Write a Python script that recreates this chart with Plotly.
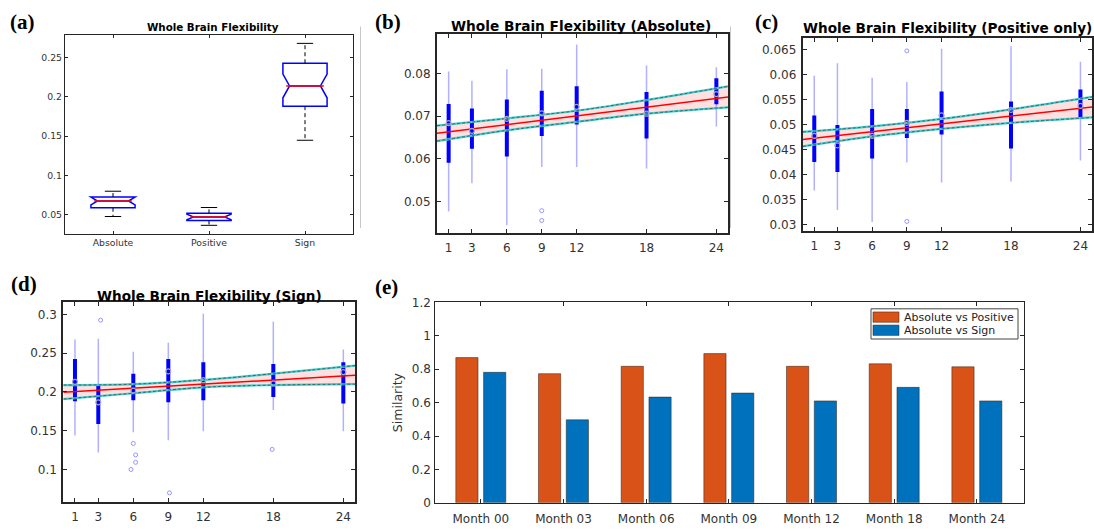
import plotly.graph_objects as go

W, H = 1094, 531
FONT = "DejaVu Sans"
TXT = "#333333"
AXC = "#262626"

# ---------------- data ----------------
# (a) overall box plots
a_cats = ["Absolute", "Positive", "Sign"]
a_lowcap = [0.0480, 0.0368, 0.1448]
a_q1 = [0.0591, 0.0430, 0.1881]
a_med = [0.0677, 0.0475, 0.2137]
a_q3 = [0.0727, 0.0520, 0.2426]
a_upcap = [0.0801, 0.0594, 0.2678]
a_notch = [0.0050, 0.0035, 0.0150]

months = [1, 3, 6, 9, 12, 18, 24]
fit_x = [0, 25]
ci_x = [0, 6, 12, 18, 25]

# (b) absolute
b_wlo = [0.0477, 0.0543, 0.0445, 0.0581, 0.0581, 0.0578, 0.0676]
b_whi = [0.0805, 0.0783, 0.0810, 0.0811, 0.0868, 0.0819, 0.0815]
b_q1 = [0.0591, 0.0624, 0.0606, 0.0654, 0.0681, 0.0648, 0.0728]
b_q3 = [0.0729, 0.0718, 0.0739, 0.0760, 0.0770, 0.0757, 0.0789]
b_med = [0.0684, 0.0666, 0.0694, 0.0707, 0.0722, 0.0706, 0.0752]
b_out_x = [9, 9]
b_out_y = [0.0479, 0.0456]
b_fit = [0.0660, 0.0745]
b_ci_hi = [0.0678, 0.0695, 0.0713, 0.0738, 0.0770]
b_ci_lo = [0.0642, 0.0667, 0.0687, 0.0706, 0.0721]

# (c) positive only
c_wlo = [0.0368, 0.0329, 0.0305, 0.0424, 0.0384, 0.0386, 0.0428]
c_whi = [0.0597, 0.0622, 0.0593, 0.0585, 0.0651, 0.0656, 0.0625]
c_q1 = [0.0425, 0.0405, 0.0432, 0.0473, 0.0480, 0.0452, 0.0513]
c_q3 = [0.0518, 0.0499, 0.0531, 0.0531, 0.0566, 0.0546, 0.0570]
c_med = [0.0477, 0.0458, 0.0477, 0.0503, 0.0518, 0.0529, 0.0537]
c_out_x = [9, 9]
c_out_y = [0.0647, 0.0306]
c_fit = [0.0470, 0.0535]
c_ci_hi = [0.0485, 0.0496, 0.0511, 0.0530, 0.0555]
c_ci_lo = [0.0456, 0.0476, 0.0491, 0.0503, 0.0514]

# (d) sign
d_wlo = [0.1439, 0.1218, 0.1481, 0.1377, 0.1494, 0.1766, 0.1494]
d_whi = [0.2674, 0.2686, 0.2519, 0.2632, 0.3008, 0.2904, 0.2548]
d_q1 = [0.1879, 0.1586, 0.1891, 0.1866, 0.1891, 0.1933, 0.1849]
d_q3 = [0.2423, 0.2100, 0.2234, 0.2423, 0.2381, 0.2360, 0.2381]
d_med = [0.2130, 0.1866, 0.2017, 0.2264, 0.2151, 0.2109, 0.2255]
d_out_x = [3.2, 6.0, 6.2, 6.2, 5.8, 9.1, 17.9]
d_out_y = [0.2925, 0.1335, 0.1188, 0.1092, 0.1000, 0.0699, 0.1259]
d_fit = [0.1996, 0.2213]
d_ci_hi = [0.2088, 0.2100, 0.2155, 0.2235, 0.2339]
d_ci_lo = [0.1908, 0.1983, 0.2059, 0.2088, 0.2100]

# (e) similarity
e_cats = ["Month 00", "Month 03", "Month 06", "Month 09", "Month 12", "Month 18", "Month 24"]
e_series = ["Absolute vs Positive", "Absolute vs Sign"]
e_abs_pos = [0.869, 0.773, 0.817, 0.893, 0.817, 0.832, 0.814]
e_abs_sign = [0.781, 0.497, 0.633, 0.657, 0.610, 0.691, 0.610]
e_colors = ["#D95319", "#0072BD"]

# ---------------- figure ----------------
fig = go.Figure()

# (a)
BOXW = 0.46
NOTCHW = 0.15
CAPW = 0.085
for i, c in enumerate(a_cats):
    pos = i + 1
    fig.add_trace(go.Box(
        x=[pos], q1=[a_q1[i]], median=[a_med[i]], q3=[a_q3[i]],
        lowerfence=[a_q1[i]], upperfence=[a_q3[i]], notchspan=[a_notch[i]],
        notched=True, notchwidth=NOTCHW, width=BOXW, whiskerwidth=0,
        line=dict(color="#0000FF", width=1.5), fillcolor="rgba(0,0,0,0)",
        boxpoints=False, hoverinfo="skip", showlegend=False, name=c,
        xaxis="x", yaxis="y"))
wx, wy, cx, cy, mx, my = [], [], [], [], [], []
for i in range(len(a_cats)):
    pos = i + 1
    wx += [pos, pos, None, pos, pos, None]
    wy += [a_q3[i], a_upcap[i], None, a_q1[i], a_lowcap[i], None]
    cx += [pos - CAPW, pos + CAPW, None, pos - CAPW, pos + CAPW, None]
    cy += [a_upcap[i], a_upcap[i], None, a_lowcap[i], a_lowcap[i], None]
    hw = BOXW / 2 * (1 - NOTCHW)
    mx += [pos - hw, pos + hw, None]
    my += [a_med[i], a_med[i], None]
fig.add_trace(go.Scatter(x=wx, y=wy, mode="lines", line=dict(color="black", width=1, dash="4px,3px"),
                         showlegend=False, hoverinfo="skip", xaxis="x", yaxis="y"))
fig.add_trace(go.Scatter(x=cx, y=cy, mode="lines", line=dict(color="black", width=1),
                         showlegend=False, hoverinfo="skip", xaxis="x", yaxis="y"))
fig.add_trace(go.Scatter(x=mx, y=my, mode="lines", line=dict(color="#FF0000", width=1.5),
                         showlegend=False, hoverinfo="skip", xaxis="x", yaxis="y"))


def trend_panel(xa, ya, wlo, whi, q1, q3, med, ox, oy, fit, cihi, cilo):
    fig.add_trace(go.Scatter(x=ci_x, y=cilo, mode="lines", line=dict(width=0, shape="spline"),
                             showlegend=False, hoverinfo="skip", xaxis=xa, yaxis=ya))
    fig.add_trace(go.Scatter(x=ci_x, y=cihi, mode="lines", line=dict(width=0, shape="spline"),
                             fill="tonexty", fillcolor="rgba(255,0,0,0.12)",
                             showlegend=False, hoverinfo="skip", xaxis=xa, yaxis=ya))
    xs, ys, bx, by = [], [], [], []
    for t, lo, hi, a, b in zip(months, wlo, whi, q1, q3):
        xs += [t, t, None]
        ys += [lo, hi, None]
        bx += [t, t, None]
        by += [a, b, None]
    fig.add_trace(go.Scatter(x=xs, y=ys, mode="lines", line=dict(color="rgba(70,70,255,0.42)", width=1.5),
                             showlegend=False, hoverinfo="skip", xaxis=xa, yaxis=ya))
    fig.add_trace(go.Scatter(x=bx, y=by, mode="lines", line=dict(color="#0000FF", width=4),
                             showlegend=False, hoverinfo="skip", xaxis=xa, yaxis=ya))
    for ci in (cihi, cilo):
        fig.add_trace(go.Scatter(x=ci_x, y=ci, mode="lines", line=dict(color="rgb(70,205,205)", width=2.2, shape="spline"),
                                 showlegend=False, hoverinfo="skip", xaxis=xa, yaxis=ya))
        fig.add_trace(go.Scatter(x=ci_x, y=ci, mode="lines",
                                 line=dict(color="rgba(40,60,60,0.85)", width=0.8, shape="spline", dash="3px,2px"),
                                 showlegend=False, hoverinfo="skip", xaxis=xa, yaxis=ya))
    fig.add_trace(go.Scatter(x=fit_x, y=fit, mode="lines", line=dict(color="#FF0000", width=1.5),
                             showlegend=False, hoverinfo="skip", xaxis=xa, yaxis=ya))
    fig.add_trace(go.Scatter(x=months, y=med, mode="markers",
                             marker=dict(symbol="circle-open", size=5, color="rgb(165,165,190)", line=dict(width=1.2)),
                             showlegend=False, hoverinfo="skip", xaxis=xa, yaxis=ya))
    fig.add_trace(go.Scatter(x=ox, y=oy, mode="markers",
                             marker=dict(symbol="circle-open", size=4, color="rgb(150,150,255)", line=dict(width=1)),
                             showlegend=False, hoverinfo="skip", xaxis=xa, yaxis=ya))


trend_panel("x2", "y2", b_wlo, b_whi, b_q1, b_q3, b_med, b_out_x, b_out_y, b_fit, b_ci_hi, b_ci_lo)
trend_panel("x3", "y3", c_wlo, c_whi, c_q1, c_q3, c_med, c_out_x, c_out_y, c_fit, c_ci_hi, c_ci_lo)
trend_panel("x4", "y4", d_wlo, d_whi, d_q1, d_q3, d_med, d_out_x, d_out_y, d_fit, d_ci_hi, d_ci_lo)

# (e)
for name, vals, col in zip(e_series, [e_abs_pos, e_abs_sign], e_colors):
    fig.add_trace(go.Bar(x=e_cats, y=vals, name=name, showlegend=False,
                         marker=dict(color=col, line=dict(color="rgba(40,30,20,0.7)", width=0.7)),
                         xaxis="x5", yaxis="y5"))


def px_x(p):
    return p / W


def px_y(p):
    return 1 - p / H


def axis(dom, anchor, rng, tickvals=None, ticktext=None, size=12, lw=2.0, tl=4, standoff=None):
    d = dict(domain=dom, anchor=anchor, range=rng, showline=True, linecolor=AXC, linewidth=lw,
             mirror="ticks", ticks="inside", ticklen=tl, tickwidth=1, tickcolor=AXC,
             showgrid=False, zeroline=False, tickfont=dict(family=FONT, size=size, color=TXT),
             fixedrange=True)
    if tickvals is not None:
        d["tickvals"] = tickvals
    if ticktext is not None:
        d["ticktext"] = ticktext
    if standoff is not None:
        d["ticklabelstandoff"] = standoff
    return d


layout = dict(
    width=W, height=H, margin=dict(l=0, r=0, t=0, b=0),
    paper_bgcolor="white", plot_bgcolor="white",
    barmode="group", bargap=0.328, bargroupgap=0.2,
    font=dict(family=FONT, color=TXT), showlegend=False,
)
layout["xaxis"] = axis([px_x(65), px_x(353)], "y", [0.5, 3.5], [1, 2, 3], a_cats, size=9.3, lw=1.3, tl=3)
layout["yaxis"] = axis([px_y(233.3), px_y(28.3)], "x", [0.0256, 0.279], [0.05, 0.1, 0.15, 0.2, 0.25],
                       ["0.05", "0.1", "0.15", "0.2", "0.25"], size=9.3, lw=1.3, tl=3)
layout["xaxis2"] = axis([px_x(437), px_x(728)], "y2", [0, 25], months, size=12, standoff=3)
layout["yaxis2"] = axis([px_y(232), px_y(28)], "x2", [0.0427, 0.0892], [0.05, 0.06, 0.07, 0.08],
                        ["0.05", "0.06", "0.07", "0.08"], size=12, standoff=2)
layout["xaxis3"] = axis([px_x(802.7), px_x(1092)], "y3", [0, 25], months, size=12, standoff=3)
c_ticks = [0.03, 0.035, 0.04, 0.045, 0.05, 0.055, 0.06, 0.065]
layout["yaxis3"] = axis([px_y(230), px_y(31.7)], "x3", [0.0287, 0.0673], c_ticks,
                        ["0.03", "0.035", "0.04", "0.045", "0.05", "0.055", "0.06", "0.065"], size=12, standoff=2)
layout["xaxis4"] = axis([px_x(63.3), px_x(355)], "y4", [0, 25], months, size=12, standoff=3)
layout["yaxis4"] = axis([px_y(508.3), px_y(303.3)], "x4", [0.0582, 0.3155], [0.1, 0.15, 0.2, 0.25, 0.3],
                        ["0.1", "0.15", "0.2", "0.25", "0.3"], size=12, standoff=2)
layout["xaxis5"] = axis([px_x(434.5), px_x(1024)], "y5", [-0.56, 6.57], size=12, lw=1.3, tl=4, standoff=5)
layout["xaxis5"]["type"] = "category"
layout["yaxis5"] = axis([px_y(509.3), px_y(303.3)], "x5", [0, 1.2], [0, 0.2, 0.4, 0.6, 0.8, 1, 1.2],
                        ["0", "0.2", "0.4", "0.6", "0.8", "1", "1.2"], size=12, lw=1.3, tl=4)
layout["yaxis5"]["title"] = dict(text="Similarity", font=dict(family=FONT, size=12.5, color=TXT), standoff=6)
fig.update_layout(**layout)

# legend for (e), drawn as a MATLAB-style box
LX0, LX1, LY0, LY1 = 871, 1018, 310, 341
fig.add_shape(type="rect", xref="paper", yref="paper", x0=px_x(LX0), x1=px_x(LX1), y0=px_y(LY1), y1=px_y(LY0),
              line=dict(color="#444444", width=1), fillcolor="white", layer="above")
for k, (name, col) in enumerate(zip(e_series, e_colors)):
    yc = 318.5 + k * 13.5
    fig.add_shape(type="rect", xref="paper", yref="paper", x0=px_x(873), x1=px_x(899),
                  y0=px_y(yc + 5.3), y1=px_y(yc - 5.3), line=dict(color="rgba(40,30,20,0.7)", width=0.7),
                  fillcolor=col, layer="above")
    fig.add_annotation(text=name, x=px_x(902), y=px_y(yc), xref="paper", yref="paper", showarrow=False,
                       xanchor="left", yanchor="middle", font=dict(family=FONT, size=11, color="#222222"))

titles = [
    ("Whole Brain Flexibility", 212.5, 20.7, 10.3),
    ("Whole Brain Flexibility (Absolute)", 581, 20, 13.7),
    ("Whole Brain Flexibility (Positive only)", 947.5, 21.7, 13.6),
    ("Whole Brain Flexibility (Sign)", 209.2, 296.7, 13.6),
]
for txt, x, y, s in titles:
    fig.add_annotation(text="<b>%s</b>" % txt, x=px_x(x), y=px_y(y), xref="paper", yref="paper",
                       showarrow=False, xanchor="center", yanchor="middle",
                       font=dict(family="DejaVu Sans", size=s, color="black"))
labels = [("(a)", 22.5, 15), ("(b)", 387.5, 15), ("(c)", 766.3, 15), ("(d)", 23.8, 285), ("(e)", 386, 288)]
for txt, x, y in labels:
    fig.add_annotation(text="<b>%s</b>" % txt, x=px_x(x), y=px_y(y), xref="paper", yref="paper",
                       showarrow=False, xanchor="center", yanchor="middle",
                       font=dict(family="Liberation Serif", size=21, color="black"))

for xx in (360.5, 730.5):
    fig.add_shape(type="line", xref="paper", yref="paper", x0=px_x(xx), x1=px_x(xx),
                  y0=px_y(227), y1=px_y(20), line=dict(color="#c8c8c8", width=1))

fig.write_html("out.html", config={"displayModeBar": False},
               post_script="document.body.style.margin='0px';document.body.style.overflow='hidden';")
